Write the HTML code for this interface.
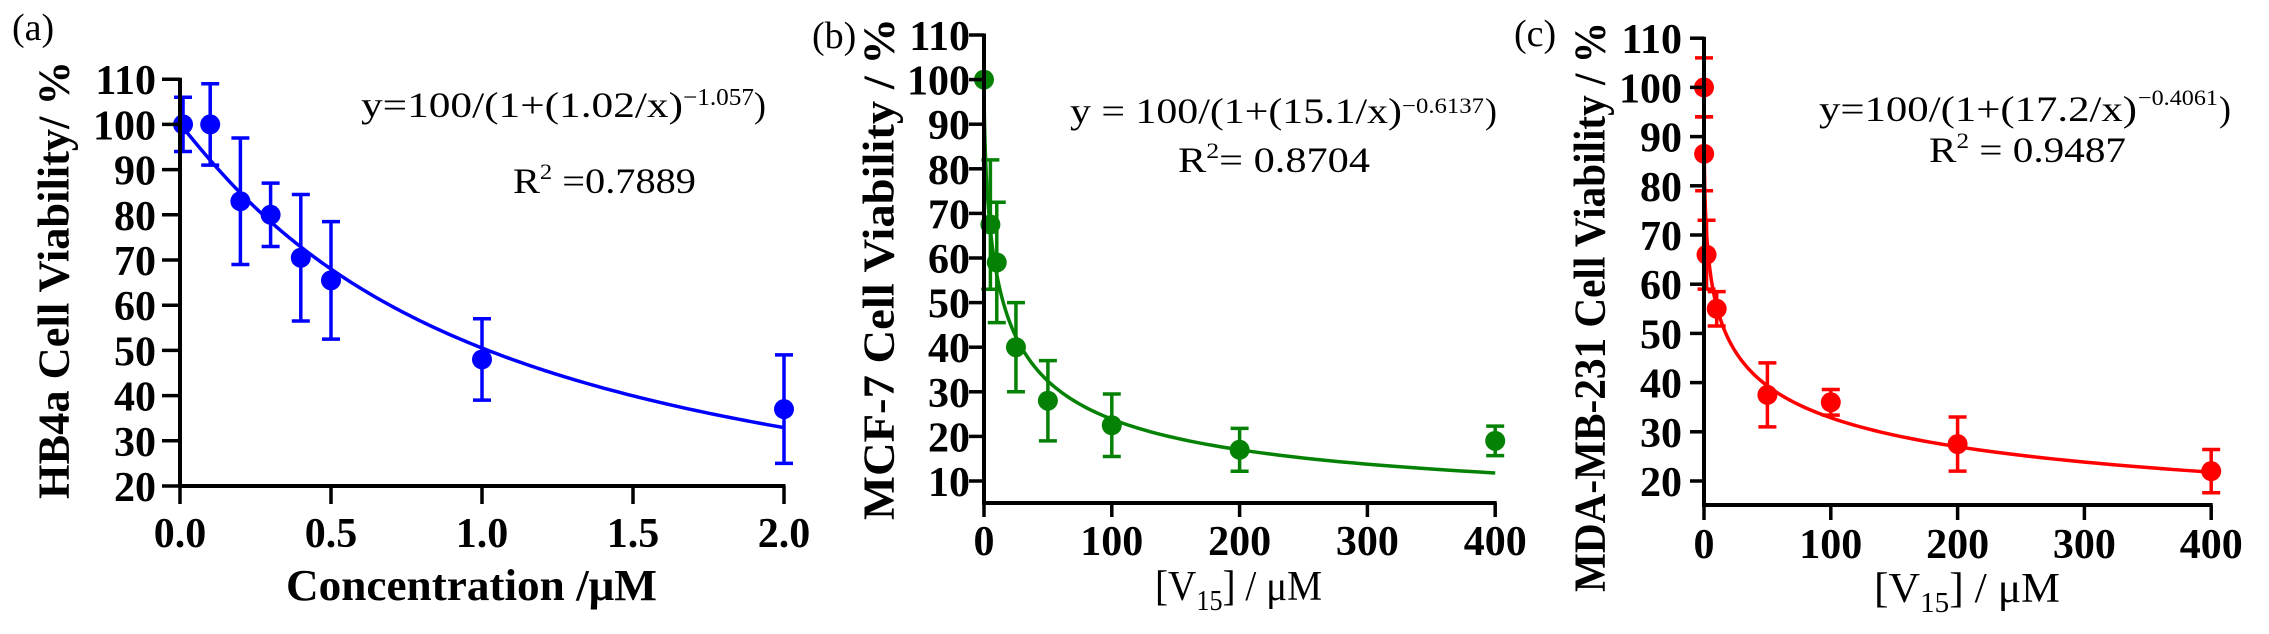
<!DOCTYPE html>
<html><head><meta charset="utf-8"><style>
html,body{margin:0;padding:0;background:#fff;}
svg{display:block;font-family:"Liberation Serif",serif;}
</style></head><body>
<svg id="chart" width="2269" height="634" viewBox="0 0 2269 634" xmlns="http://www.w3.org/2000/svg">
<g id="pa"></g>
<g id="pb"></g>
<g id="pc"></g>
</svg>
<script>
// Panel (a) data
const aX = [0.01, 0.1, 0.2, 0.3, 0.4, 0.5, 1.0, 2.0];
const aY = [100, 100, 83, 80, 70.5, 65.5, 48, 37];
const aErr = [6, 9, 14, 7, 14, 13, 9, 12];
const aXTicks = [0, 0.5, 1.0, 1.5, 2.0];
const aXTickLabels = ["0.0", "0.5", "1.0", "1.5", "2.0"];
const aYTicks = [20, 30, 40, 50, 60, 70, 80, 90, 100, 110];
const aFit = [1.02, 1.057];
// Panel (b) data
const bX = [0, 5, 10, 25, 50, 100, 200, 400];
const bY = [100, 67.5, 59, 40, 28, 22.5, 17, 19];
const bErr = [0, 14.5, 13.5, 10, 9, 7, 4.8, 3.3];
const bXTicks = [0, 100, 200, 300, 400];
const bYTicks = [10, 20, 30, 40, 50, 60, 70, 80, 90, 100, 110];
const bFit = [15.1, 0.6137];
// Panel (c) data
const cX = [0, 0.1, 2, 10, 50, 100, 200, 400];
const cY = [100, 86.5, 66, 55, 37.5, 36, 27.5, 22];
const cErr = [6, 7.5, 7, 3.5, 6.5, 2.6, 5.5, 4.4];
const cXTicks = [0, 100, 200, 300, 400];
const cYTicks = [20, 30, 40, 50, 60, 70, 80, 90, 100, 110];
const cFit = [17.2, 0.4061];

const NS = "http://www.w3.org/2000/svg";
function mk(parent, tag, attrs, text){
  const e = document.createElementNS(NS, tag);
  for (const k in attrs) e.setAttribute(k, attrs[k]);
  if (text !== undefined) e.textContent = text;
  parent.appendChild(e);
  return e;
}

function drawPanel(g, P){
  const sx = v => P.x0 + (v - P.xmin) * P.xpx;
  const sy = v => P.y0 - (v - P.ymin) * P.ypx;
  const col = P.color;
  // fit curve
  let d = "";
  const n = 400;
  for (let i = 0; i <= n; i++){
    const t = i / n;
    const x = P.curveStart * Math.pow(P.curveEnd / P.curveStart, t);
    const y = 100 / (1 + Math.pow(x / P.fit[0], P.fit[1]));
    d += (i ? "L" : "M") + sx(x).toFixed(2) + "," + sy(y).toFixed(2);
  }
  const curve = mk(g, "path", {d: d, fill: "none", stroke: col, "stroke-width": 3.5});
  
  
  // error bars & points
  for (let i = 0; i < P.xs.length; i++){
    const cx = sx(P.xs[i]), cy = sy(P.ys[i]);
    const eg = mk(g, "g", {});
    
    
    if (P.err[i] > 0){
      const t = sy(P.ys[i] + P.err[i]), b = sy(P.ys[i] - P.err[i]);
      mk(eg, "path", {d: `M${cx},${t}L${cx},${b}M${cx-9},${t}L${cx+9},${t}M${cx-9},${b}L${cx+9},${b}`, stroke: col, "stroke-width": 3.5, fill: "none"});
    }
    const pt = mk(g, "circle", {cx: cx, cy: cy, r: 10, fill: col});
    
    
  }
  // axes
  const ax = mk(g, "g", {stroke: "#000", fill: "none"});
  
  
  const yTop = sy(P.yTicks[P.yTicks.length - 1]);
  mk(ax, "line", {x1: P.x0, y1: yTop - 1.5, x2: P.x0, y2: P.axisY + 2, "stroke-width": 4});
  mk(ax, "line", {x1: P.x0 - 2, y1: P.axisY, x2: sx(P.xTicks[P.xTicks.length - 1]) + 1.5, y2: P.axisY, "stroke-width": 4});
  P.yTicks.forEach(v => {
    mk(ax, "line", {x1: P.x0 - P.tickLen, y1: sy(v), x2: P.x0, y2: sy(v), "stroke-width": 3.5});
    const tl = mk(g, "text", {x: P.yLabelX, y: sy(v) + 15, "text-anchor": "end", "font-size": 42, "font-weight": "bold"}, String(v));
    
    
  });
  P.xTicks.forEach((v, i) => {
    mk(ax, "line", {x1: sx(v), y1: P.axisY, x2: sx(v), y2: P.axisY + P.xTickLen, "stroke-width": 3.5});
    const tl = mk(g, "text", {x: sx(v), y: P.xLabelY, "text-anchor": "middle", "font-size": 42, "font-weight": "bold"}, P.xTickLabels[i]);
    
    
  });
}

const pa = document.getElementById("pa");
const pb = document.getElementById("pb");
const pc = document.getElementById("pc");

drawPanel(pa, {x0: 180, xmin: 0, xpx: 302, y0: 486, ymin: 20, ypx: 4.52, axisY: 486, tickLen: 18, xTickLen: 18,
  xs: aX, ys: aY, err: aErr, xTicks: aXTicks, xTickLabels: aXTickLabels, yTicks: aYTicks,
  fit: aFit, curveStart: 0.01, curveEnd: 2.0, color: "#0000ff", yLabelX: 156, xLabelY: 547});
drawPanel(pb, {x0: 984, xmin: 0, xpx: 1.278, y0: 481, ymin: 10, ypx: 4.46, axisY: 503, tickLen: 15, xTickLen: 14,
  xs: bX, ys: bY, err: bErr, xTicks: bXTicks, xTickLabels: bXTicks.map(String), yTicks: bYTicks,
  fit: bFit, curveStart: 0.0002, curveEnd: 400, color: "#058205", yLabelX: 970, xLabelY: 555});
drawPanel(pc, {x0: 1704, xmin: 0, xpx: 1.268, y0: 481, ymin: 20, ypx: 4.92, axisY: 505, tickLen: 14, xTickLen: 15,
  xs: cX, ys: cY, err: cErr, xTicks: cXTicks, xTickLabels: cXTicks.map(String), yTicks: cYTicks,
  fit: cFit, curveStart: 0.0002, curveEnd: 400, color: "#ff0000", yLabelX: 1682, xLabelY: 558});
</script>
<svg width="0" height="0" style="position:absolute"></svg>
<script>
(function(){
  const svg = document.getElementById("chart");
  const NS = "http://www.w3.org/2000/svg";
  function t(attrs, html, name){
    const e = document.createElementNS(NS, "text");
    for (const k in attrs) e.setAttribute(k, attrs[k]);
    e.innerHTML = html;
    
    
    svg.appendChild(e);
    return e;
  }
  // panel letters
  t({x: 12, y: 40, "font-size": 38}, "(a)", "panel-label-a");
  t({x: 812, y: 48, "font-size": 38}, "(b)", "panel-label-b");
  t({x: 1514, y: 46, "font-size": 38}, "(c)", "panel-label-c");
  // y titles
  t({x: 0, y: 0, transform: "translate(54,280) rotate(-90)", "text-anchor": "middle", "dominant-baseline": "central", "font-size": 44, "font-weight": "bold", textLength: 438, lengthAdjust: "spacingAndGlyphs"}, "HB4a Cell Viability/ %", "y-axis-title-a");
  t({x: 0, y: 0, transform: "translate(879,269) rotate(-90)", "text-anchor": "middle", "dominant-baseline": "central", "font-size": 44, "font-weight": "bold", textLength: 502, lengthAdjust: "spacingAndGlyphs"}, "MCF-7 Cell Viability / %", "y-axis-title-b");
  t({x: 0, y: 0, transform: "translate(1590,307) rotate(-90)", "text-anchor": "middle", "dominant-baseline": "central", "font-size": 44, "font-weight": "bold", textLength: 570, lengthAdjust: "spacingAndGlyphs"}, "MDA-MB-231 Cell Viability / %", "y-axis-title-c");
  // x titles
  t({x: 286, y: 600, "font-size": 44, "font-weight": "bold", textLength: 371, lengthAdjust: "spacingAndGlyphs"}, "Concentration /μM", "x-axis-title-a");
  t({x: 1155, y: 600, "font-size": 42, textLength: 167, lengthAdjust: "spacingAndGlyphs"}, '[V<tspan font-size="28" dy="10">15</tspan><tspan dy="-10">] / μM</tspan>', "x-axis-title-b");
  t({x: 1874, y: 602, "font-size": 42, textLength: 186, lengthAdjust: "spacingAndGlyphs"}, '[V<tspan font-size="28" dy="10">15</tspan><tspan dy="-10">] / μM</tspan>', "x-axis-title-c");
  // equations
  t({x: 361, y: 117, "font-size": 36, textLength: 322, lengthAdjust: "spacingAndGlyphs"}, "y=100/(1+(1.02/x)", "equation-a");
  t({x: 683, y: 105, "font-size": 24, textLength: 71, lengthAdjust: "spacingAndGlyphs"}, "−1.057", "equation-exponent-a");
  t({x: 754, y: 117, "font-size": 36}, ")", "equation-paren-a");
  t({x: 513, y: 193, "font-size": 36, textLength: 183, lengthAdjust: "spacingAndGlyphs"}, 'R<tspan font-size="22" dy="-14">2</tspan><tspan dy="14"> =0.7889</tspan>', "r-squared-a");

  t({x: 1070, y: 123, "font-size": 36, textLength: 332, lengthAdjust: "spacingAndGlyphs"}, "y = 100/(1+(15.1/x)", "equation-b");
  t({x: 1402, y: 113, "font-size": 22, textLength: 82, lengthAdjust: "spacingAndGlyphs"}, "−0.6137", "equation-exponent-b");
  t({x: 1485, y: 123, "font-size": 36}, ")", "equation-paren-b");
  t({x: 1178, y: 172, "font-size": 36, textLength: 192, lengthAdjust: "spacingAndGlyphs"}, 'R<tspan font-size="22" dy="-14">2</tspan><tspan dy="14">= 0.8704</tspan>', "r-squared-b");

  t({x: 1819, y: 121, "font-size": 36, textLength: 318, lengthAdjust: "spacingAndGlyphs"}, "y=100/(1+(17.2/x)", "equation-c");
  t({x: 2138, y: 105, "font-size": 22, textLength: 80, lengthAdjust: "spacingAndGlyphs"}, "−0.4061", "equation-exponent-c");
  t({x: 2219, y: 121, "font-size": 36}, ")", "equation-paren-c");
  t({x: 1929, y: 162, "font-size": 36, textLength: 197, lengthAdjust: "spacingAndGlyphs"}, 'R<tspan font-size="22" dy="-14">2</tspan><tspan dy="14"> = 0.9487</tspan>', "r-squared-c");
})();
</script>
</body></html>
